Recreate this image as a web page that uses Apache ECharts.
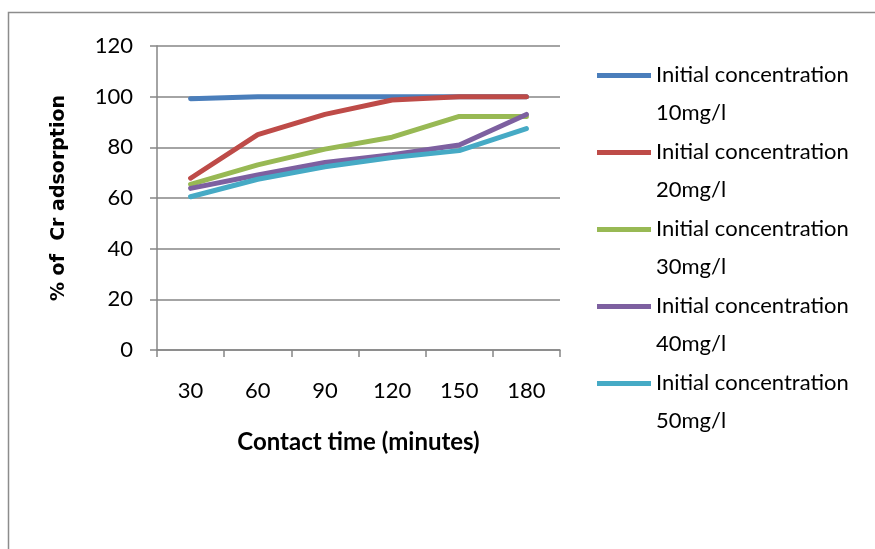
<!DOCTYPE html>
<html>
<head>
<meta charset="utf-8">
<script src="https://cdn.jsdelivr.net/npm/echarts@6/dist/echarts.min.js"></script>
<style>
html,body{margin:0;padding:0;background:#fff;}
#c{width:875px;height:549px;}
</style>
</head>
<body>
<div id="c"></div>
<script>
var categories = ['30', '60', '90', '120', '150', '180'];
var seriesNames = [
  'Initial concentration\n10mg/l',
  'Initial concentration\n20mg/l',
  'Initial concentration\n30mg/l',
  'Initial concentration\n40mg/l',
  'Initial concentration\n50mg/l'
];
var conc10 = [99.2, 100, 100, 100, 100, 100];
var conc20 = [67.8, 85, 93, 98.7, 100, 100];
var conc30 = [65.4, 73.1, 79.3, 84, 92.2, 92.2];
var conc40 = [63.8, 69.1, 74, 77.1, 80.9, 93];
var conc50 = [60.5, 67.4, 72.3, 76, 78.7, 87.4];
var colors = ['#4A7EBB', '#BE4B48', '#98B954', '#7D60A0', '#46AAC5'];
var values = [conc10, conc20, conc30, conc40, conc50];

var font = 'Lato, "Liberation Sans", sans-serif';
var chart = echarts.init(document.getElementById('c'), null, {renderer: 'canvas'});
var series = values.map(function (v, i) {
  return {
    name: seriesNames[i],
    type: 'line',
    data: v,
    symbol: 'none',
    smooth: false,
    lineStyle: {width: 5, color: colors[i], cap: 'round', join: 'round'},
    itemStyle: {color: colors[i]}
  };
});
chart.setOption({
  animation: false,
  backgroundColor: '#fff',
  color: colors,
  graphic: [{
    type: 'rect',
    shape: {x: 8.5, y: 12.5, width: 900, height: 600},
    style: {fill: 'none', stroke: '#8c8c8c', lineWidth: 1.5},
    silent: true,
    z: -1
  }],
  grid: {left: 157, right: 315, top: 46, bottom: 199, containLabel: false},
  legend: {
    orient: 'vertical',
    left: 592,
    top: 51,
    align: 'left',
    itemWidth: 54,
    itemHeight: 76,
    itemGap: 1,
    icon: 'path://M0,0 M54,76 M0,17 L54,17 L54,22 L0,22 Z',
    itemStyle: {borderWidth: 0},
    data: seriesNames,
    formatter: function (name) {
      return name.split('\n').map(function (s) { return '{a|' + s + '}'; }).join('\n');
    },
    textStyle: {
      fontFamily: font,
      fontSize: 22,
      color: '#000',
      lineHeight: 38,
      rich: {
        a: {fontFamily: font, fontSize: 22, color: '#000', lineHeight: 38, width: 200, align: 'left'}
      }
    }
  },
  xAxis: {
    type: 'category',
    data: categories,
    boundaryGap: true,
    name: 'Contact time (minutes)',
    nameLocation: 'middle',
    nameGap: 80,
    nameTextStyle: {fontFamily: font, fontSize: 24, fontWeight: 'bold', color: '#000'},
    axisLine: {lineStyle: {color: '#868686', width: 1.5}},
    axisTick: {show: true, alignWithLabel: false, length: 7, lineStyle: {color: '#868686', width: 1.5}},
    axisLabel: {fontFamily: font, fontSize: 22, color: '#000', margin: 30}
  },
  yAxis: {
    type: 'value',
    min: 0,
    max: 120,
    interval: 20,
    name: '% of  Cr adsorption',
    nameLocation: 'middle',
    nameGap: 88,
    nameRotate: 90,
    nameTextStyle: {fontFamily: '"DejaVu Sans", sans-serif', fontSize: 19, fontWeight: 'bold', color: '#000'},
    axisLine: {show: true, lineStyle: {color: '#868686', width: 1.5}},
    axisTick: {show: true, length: 7, lineStyle: {color: '#868686', width: 1.5}},
    axisLabel: {fontFamily: font, fontSize: 22, color: '#000', margin: 24},
    splitLine: {show: true, lineStyle: {color: '#868686', width: 1.5}}
  },
  series: series
});
</script>
</body>
</html>
